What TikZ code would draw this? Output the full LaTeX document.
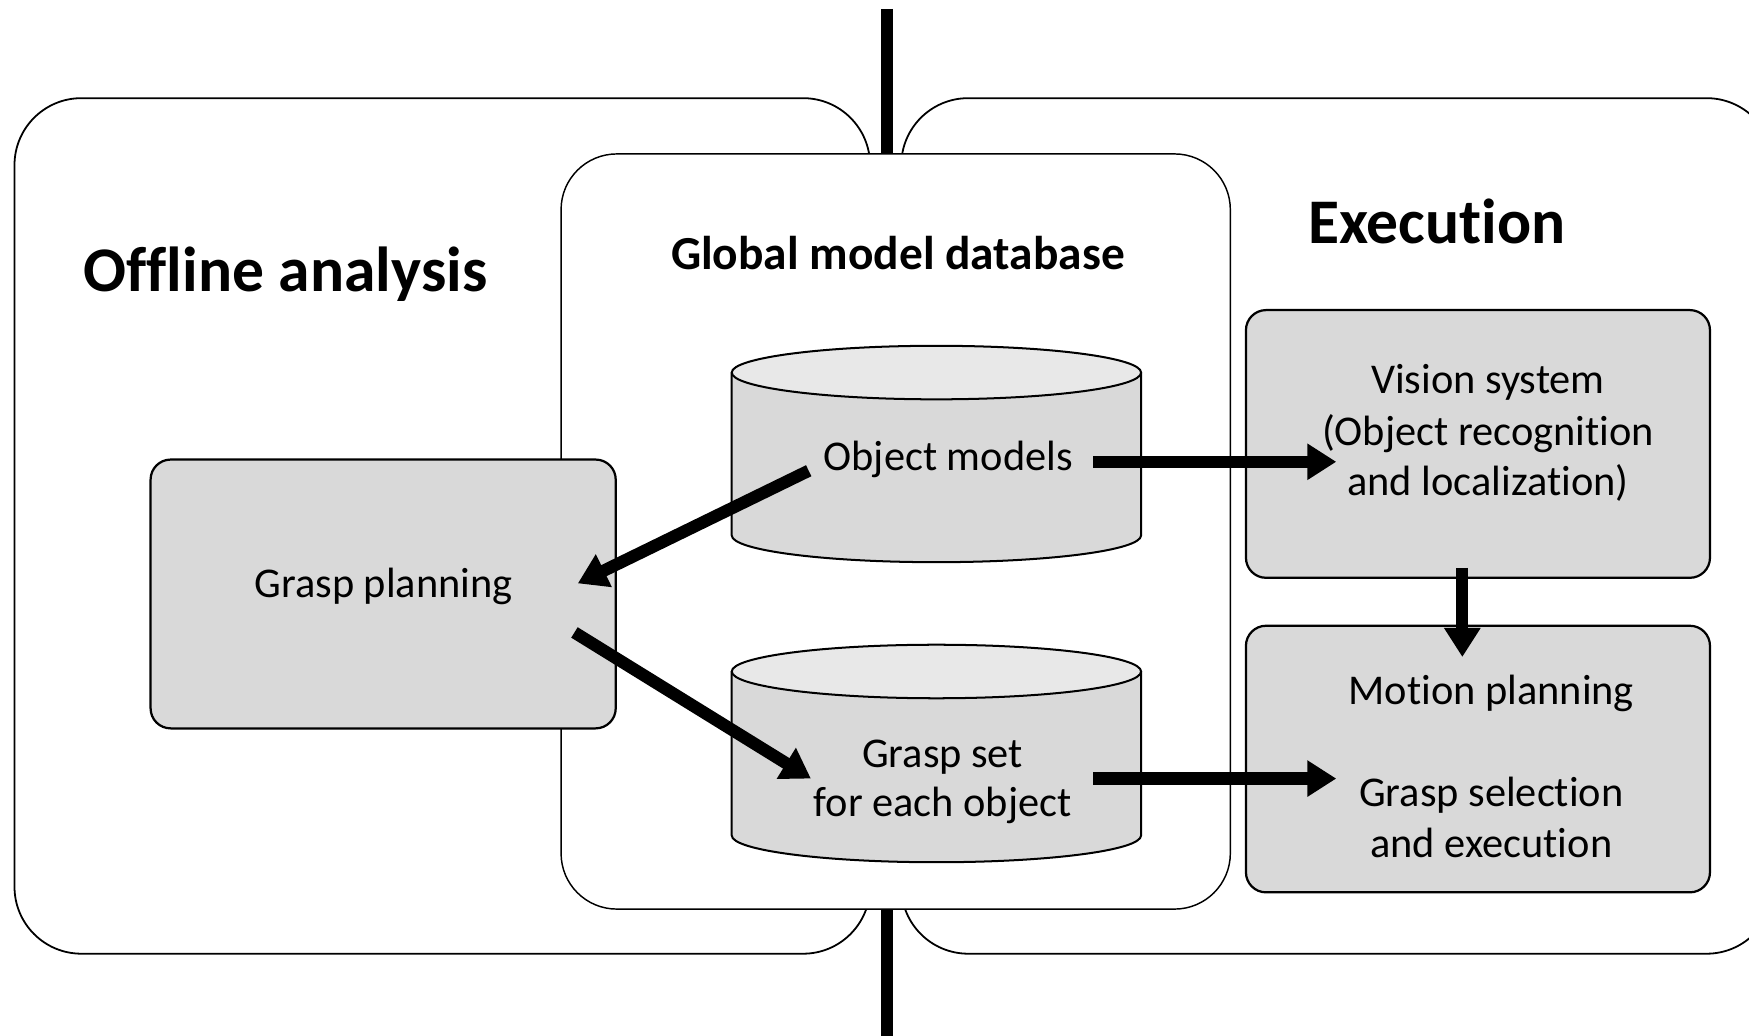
\documentclass[tikz,border=0pt]{standalone}
\usepackage{fontspec}
\setmainfont{Carlito}[Ligatures=NoCommon]
\usetikzlibrary{arrows.meta}
\definecolor{boxgray}{HTML}{D9D9D9}
\definecolor{topgray}{HTML}{E8E8E8}
\tikzset{
  outerbox/.style={draw=black, line width=1.6, fill=white, rounded corners=60},
  innerbox/.style={draw=black, line width=1.3, fill=white, rounded corners=50},
  graybox/.style={draw=black, line width=2, fill=boxgray, rounded corners=18},
  cylbody/.style={draw=black, line width=1.8, fill=boxgray},
  cyltop/.style={draw=black, line width=1.8, fill=topgray},
  bigarrow/.style={line width=11, -{Triangle[width=31,length=26]}},
  divider/.style={line width=11},
  title/.style={font=\fontsize{57}{60}\selectfont\bfseries, anchor=base, inner sep=0},
  subtitle/.style={font=\fontsize{42.5}{48}\selectfont\bfseries, anchor=base, inner sep=0},
  body/.style={font=\fontsize{38}{45}\selectfont, anchor=base, inner sep=0},
}
\begin{document}
\begin{tikzpicture}[x=1pt, y=-1pt]
\useasboundingbox (0,0) rectangle (1568,928);
% divider line
\coordinate (dtop) at (795,8);
\coordinate (dbot) at (795,935);
\draw[divider] (dtop) -- (dbot);
% outer boxes
\draw[outerbox] (13,88) rectangle (780,855);
\draw[outerbox] (808,88) rectangle (1590,855);
% inner box
\draw[innerbox] (503,138) rectangle (1103,815);
% titles
\node[title] (offline) at (256,261) {Offline analysis};
\node[subtitle] (global) at (805,242) {Global model database};
\node[title] (exec) at (1288,218) {Execution};
% grasp planning box
\draw[graybox] (135,412) rectangle (552,653);
\node[body] (gp) at (344,536) {Grasp planning};
% cylinders
\foreach \yt/\yb in {334/480, 602/749}{
  \draw[cylbody] (656,\yt) -- (656,\yb) arc[start angle=180, end angle=0, x radius=183.5, y radius=24] -- (1023,\yt);
  \draw[cyltop] (839.5,\yt) ellipse[x radius=183.5, y radius=24];
}
\node[body] (om) at (850,422) {Object models};
\node[body] (gs1) at (845,688) {Grasp set};
\node[body] (gs2) at (845,732) {for each object};
% vision box
\draw[graybox] (1117,278) rectangle (1533,518);
\node[body] (vs1) at (1334,353) {Vision system};
\node[body] (vs2) at (1334,399) {(Object recognition};
\node[body] (vs3) at (1334,444) {and localization)};
% motion box
\draw[graybox] (1117,561) rectangle (1533,800);
\node[body] (mp1) at (1337,632) {Motion planning};
\node[body] (mp2) at (1337,723) {Grasp selection};
\node[body] (mp3) at (1337,769) {and execution};
% arrow endpoints
\coordinate (a1s) at (725,422);
\coordinate (a1e) at (518,523);
\coordinate (a2s) at (515,567);
\coordinate (a2e) at (727,698);
\coordinate (a3s) at (980,414);
\coordinate (a3e) at (1198,414);
\coordinate (a4s) at (980,698);
\coordinate (a4e) at (1198,698);
\coordinate (a5s) at (1311,509);
\coordinate (a5e) at (1311,589);
\draw[bigarrow] (a1s) -- (a1e);
\draw[bigarrow] (a2s) -- (a2e);
\draw[bigarrow] (a3s) -- (a3e);
\draw[bigarrow] (a4s) -- (a4e);
\draw[bigarrow] (a5s) -- (a5e);
\end{tikzpicture}
\end{document}
